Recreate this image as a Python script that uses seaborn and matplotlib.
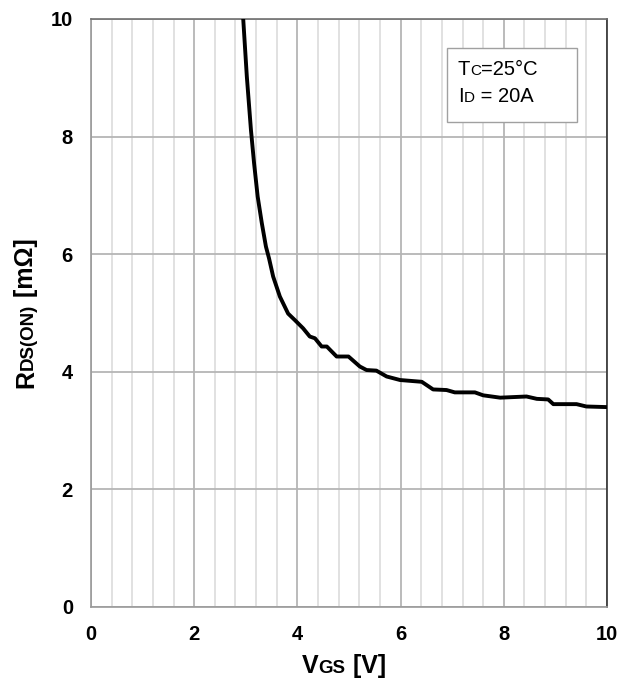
import matplotlib
matplotlib.use("Agg")
import matplotlib.pyplot as plt
import seaborn as sns
import pandas as pd
import numpy as np
from matplotlib.patches import Rectangle

# ---- data ----
vgs = [2.95, 3.02, 3.10, 3.16, 3.23, 3.31, 3.39, 3.45, 3.53, 3.66, 3.82, 3.95, 4.11,
       4.24, 4.34, 4.47, 4.57, 4.76, 4.99, 5.21, 5.34, 5.53, 5.73, 5.99, 6.41,
       6.63, 6.89, 7.05, 7.44, 7.60, 7.93, 8.44, 8.64, 8.86, 8.96, 9.41, 9.60, 9.99]
rds = [10.0, 9.02, 8.11, 7.55, 6.98, 6.53, 6.13, 5.93, 5.62, 5.28, 4.99, 4.88, 4.74,
       4.60, 4.57, 4.43, 4.43, 4.26, 4.26, 4.09, 4.03, 4.02, 3.92, 3.86, 3.83,
       3.70, 3.69, 3.65, 3.65, 3.60, 3.56, 3.58, 3.54, 3.53, 3.45, 3.45, 3.41, 3.40]
x_ticks = [0, 2, 4, 6, 8, 10]
y_ticks = [0, 2, 4, 6, 8, 10]

sns.set_theme(style="white")
plt.rcParams['font.family'] = ['Liberation Sans', 'DejaVu Sans']

W, H = 622, 684
fig = plt.figure(figsize=(W / 100, H / 100), dpi=100)
ax = fig.add_axes([91 / W, 1 - 607 / H, (607 - 91) / W, (607 - 19) / H])

df = pd.DataFrame({"VGS": vgs, "RDS": rds})
sns.lineplot(data=df, x="VGS", y="RDS", ax=ax, color="black", lw=2.8,
             sort=False, estimator=None, zorder=5)
ax.lines[0].set_solid_joinstyle("round")
ax.lines[0].set_solid_capstyle("round")

ax.set_xlim(0, 10)
ax.set_ylim(0, 10)
ax.set_xticks(x_ticks)
ax.set_yticks(y_ticks)
ax.set_xticks(np.arange(0, 10.01, 0.4), minor=True)
ax.set_xticklabels([str(t) for t in x_ticks], fontsize=14.5, fontweight="bold")
ax.set_yticklabels([str(t) for t in y_ticks], fontsize=14.5, fontweight="bold")
ax.tick_params(axis="both", which="both", length=0, pad=13, colors="black")
ax.grid(True, which="major", axis="both", color="#b5b5b5", lw=1.3)
ax.grid(True, which="minor", axis="x", color="#d9d9d9", lw=1.1)
ax.set_xlabel("")
ax.set_ylabel("")
ax.set_axisbelow(True)
for side, col in [("left", "#9a9a9a"), ("bottom", "#9a9a9a"),
                  ("top", "#707070"), ("right", "#303030")]:
    ax.spines[side].set_visible(True)
    ax.spines[side].set_color(col)
    ax.spines[side].set_linewidth(1.2)

# annotation box
ax.add_patch(Rectangle((6.90, 8.25), 2.51, 1.26, facecolor="white",
                       edgecolor="#a0a0a0", lw=1.0, zorder=6))

renderer = fig.canvas.get_renderer()


def chain_text(x0, y0, pieces, rotation=0, weight="normal"):
    """Draw consecutive pieces on one baseline (figure pixel coords)."""
    x, y = x0, y0
    for s, size in pieces:
        t = fig.text(x / W, 1 - y / H, s, fontsize=size, fontweight=weight,
                     ha="left", va="baseline", rotation=rotation,
                     rotation_mode="anchor", color="black", zorder=10)
        bb = t.get_window_extent(renderer)
        if rotation == 0:
            x += bb.width
        else:
            y -= bb.height


chain_text(458, 75, [("T", 14.5), ("C", 11), ("=25°C", 14.5)])
chain_text(458, 102, [("I", 14.5), ("D", 11), (" = 20A", 14.5)])

chain_text(302, 673, [("V", 18), ("GS", 13.5), (" [V]", 18)], weight="bold")
chain_text(33, 388, [("R", 18), ("DS(ON)", 13.5), (" [mΩ]", 18)],
           rotation=90, weight="bold")

fig.savefig("out.png", dpi=100)
